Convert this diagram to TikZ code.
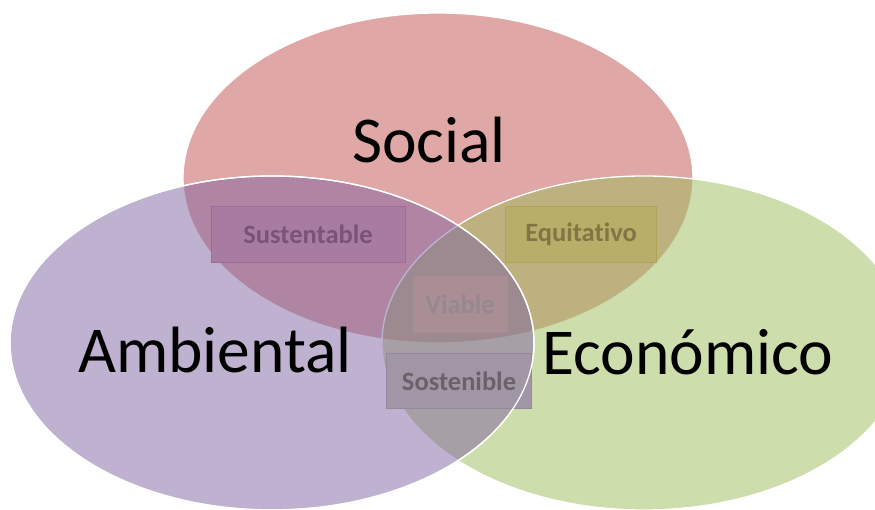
\documentclass[tikz,border=0pt]{standalone}
\usepackage{fontspec}
\setmainfont{Carlito}[Ligatures=NoCommon]
\definecolor{socialc}{HTML}{C0504D}
\definecolor{ambc}{HTML}{8064A2}
\definecolor{ecoc}{HTML}{9BBB59}
\begin{document}
\begin{tikzpicture}[x=1pt,y=-1pt,
    venn/.style={fill opacity=0.5,draw=white,line width=1.3pt},
    big/.style={font=\fontsize{65.5}{66}\selectfont,anchor=base,inner sep=0pt},
    tagbox/.style={line width=0.8pt,minimum height=56pt,inner sep=0pt,
      font=\fontsize{26.5}{27}\selectfont\bfseries}]
  \clip (0,0) rectangle (875,510);
  % circulos
  \draw[venn,fill=socialc] (438,178) ellipse [x radius=255,y radius=165];
  \draw[venn,fill=ecoc] (644,343) ellipse [x radius=262,y radius=167];
  \draw[venn,fill=ambc] (272,343) ellipse [x radius=262,y radius=167];
  % titulos
  \node[big] (social) at (429,163) {Social};
  \node[big] (ambiental) at (215,373) {Ambiental};
  \node[big] (economico) at (688,374) {Económico};
  % intersecciones
  \node[tagbox,fill={rgb,255:red,168;green,123;blue,163},draw={rgb,255:red,158;green,108;blue,156},
    text={rgb,255:red,123;green,83;blue,119},minimum width=194pt] (sust) at (308,234) {Sustentable};
  \node[tagbox,fill={rgb,255:red,184;green,174;blue,106},draw={rgb,255:red,173;green,165;blue,90},
    text={rgb,255:red,127;green,118;blue,68},minimum width=151pt] (equi) at (581,234) {Equitativo};
  \node[tagbox,fill={rgb,255:red,170;green,142;blue,150},draw={rgb,255:red,176;green,136;blue,144},
    text={rgb,255:red,150;green,136;blue,140},minimum width=94pt] (viab) at (460,304) {Viable};
  \node[tagbox,fill={rgb,255:red,160;green,150;blue,166},draw={rgb,255:red,146;green,138;blue,154},
    text={rgb,255:red,106;green,98;blue,104},minimum width=145pt,minimum height=55pt] (sost) at (459,381) {Sostenible};
  \draw[white,line width=1.3pt] (272,343) ellipse [x radius=262,y radius=167];
\end{tikzpicture}
\end{document}
